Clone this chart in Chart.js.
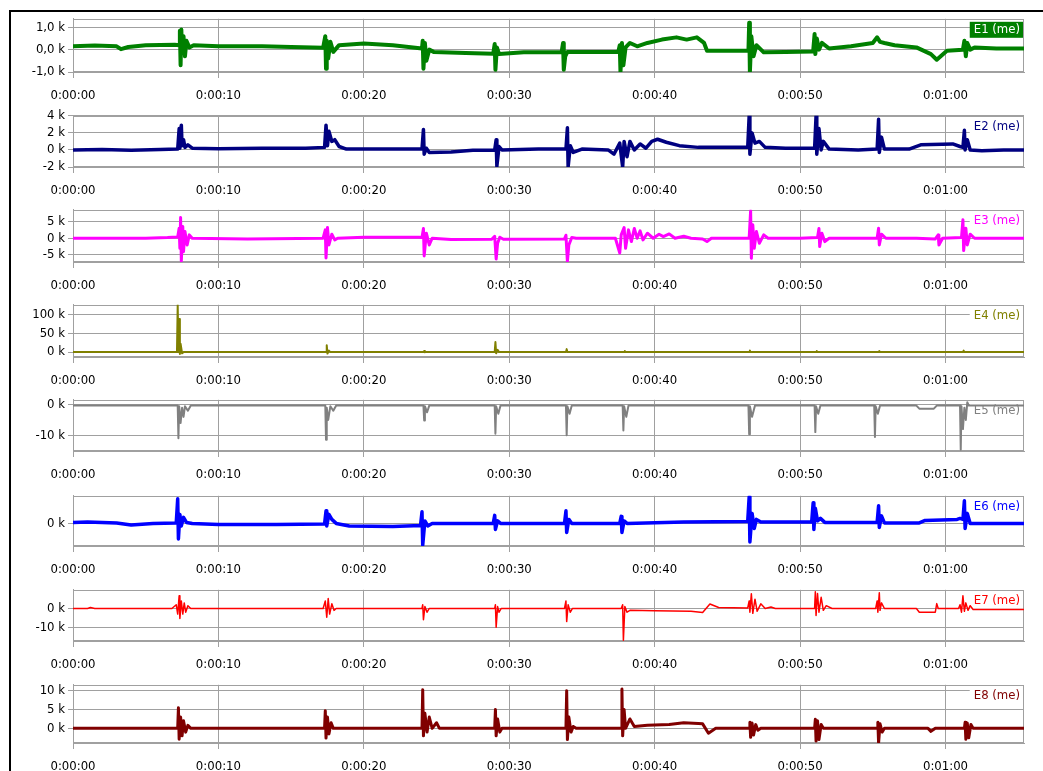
<!DOCTYPE html>
<html>
<head>
<meta charset="utf-8">
<script src="https://cdn.jsdelivr.net/npm/chart.js@4"></script>
<style>
  html, body { margin: 0; padding: 0; background: #fff; overflow: hidden; }
  #frame { position: absolute; left: 9px; top: 10px; width: 1100px; height: 800px;
           border-top: 2px solid #000; border-left: 2px solid #000; }
  .panel { position: absolute; left: 0; }
</style>
</head>
<body>
<div id="frame"></div>
<div id="wrap"></div>
<script>
//----------------- data: [seconds, value in k] -------------------------

const xTicks = [0, 10, 20, 30, 40, 50, 60];

const e1 = [[0,0.15],[1.5,0.18],[3,0.15],[3.3,0.02],[3.8,0.12],[5,0.2],[7.0,0.22],[7.3,0.2],[7.35,0.85],[7.4,-0.7],[7.45,0.9],[7.5,-0.2],[7.6,0.6],[7.7,-0.3],[7.8,0.4],[8.0,0.1],[8.3,0.2],[10,0.15],[13,0.15],[15,0.12],[16.5,0.1],[17.2,0.08],[17.35,0.6],[17.4,-0.85],[17.45,0.4],[17.55,-0.4],[17.7,0.35],[17.9,-0.1],[18.3,0.2],[20,0.28],[22,0.2],[24.0,0.05],[24.05,0.4],[24.1,-0.85],[24.2,0.3],[24.3,-0.5],[24.5,0.0],[24.8,-0.1],[27,-0.15],[28.9,-0.18],[29.0,0.25],[29.05,-0.9],[29.15,0.1],[29.3,-0.2],[31,-0.12],[33.6,-0.12],[33.7,0.3],[33.75,-0.9],[33.85,-0.3],[34.0,-0.1],[36,-0.1],[37.5,-0.1],[37.6,0.2],[37.65,-1.0],[37.75,0.3],[37.85,-0.7],[38.0,0.1],[38.3,0.3],[38.8,0.15],[39.5,0.3],[40.5,0.45],[41.5,0.55],[42.2,0.45],[42.9,0.55],[43.4,0.3],[43.6,-0.05],[45.2,-0.05],[46.45,-0.05],[46.5,1.2],[46.55,-1.0],[46.65,0.6],[46.8,-0.3],[47.0,0.2],[47.5,-0.12],[49,-0.1],[50.9,-0.08],[51.0,0.7],[51.05,-0.2],[51.15,0.5],[51.3,0.0],[51.5,0.3],[52.0,0.05],[53.5,0.15],[55.0,0.3],[55.3,0.55],[55.5,0.35],[55.8,0.3],[56.5,0.2],[58,0.1],[59.0,-0.2],[59.4,-0.45],[60.1,-0.05],[61.2,0.0],[61.3,0.4],[61.4,-0.3],[61.5,0.3],[61.7,0.0],[62.0,0.1],[63.5,0.05],[65.4,0.05]];

const e2 = [[0,0],[2,0.05],[4,-0.05],[6,0.05],[7.2,0.1],[7.3,2.5],[7.35,0.2],[7.45,2.9],[7.5,0.5],[7.6,1.2],[7.7,0.3],[7.9,0.6],[8.2,0.2],[10,0.15],[13,0.2],[16,0.2],[17.3,0.3],[17.4,2.9],[17.5,0.5],[17.6,2.2],[17.8,1.0],[18.0,1.2],[18.3,0.4],[18.8,0.1],[21,0.1],[24.0,0.1],[24.1,2.4],[24.15,-0.5],[24.3,0.2],[24.5,-0.3],[26,-0.25],[27.5,-0.05],[29.0,0.0],[29.1,1.2],[29.15,-1.9],[29.3,0.4],[29.5,0],[32,0.1],[33.9,0.1],[34.0,2.6],[34.05,-2.0],[34.2,0.5],[34.4,-0.3],[35,0.1],[36.8,0.0],[37.2,-0.5],[37.6,0.8],[37.8,-2.0],[37.9,1.0],[38.1,-0.8],[38.3,1.0],[38.6,0.0],[39,0.7],[39.4,0.2],[39.8,1.0],[40.2,1.25],[40.8,0.9],[41.7,0.5],[43,0.3],[45,0.3],[46.4,0.3],[46.5,4.0],[46.55,-0.5],[46.7,2.0],[46.9,0.8],[47.2,1.0],[47.6,0.3],[49,0.2],[51.0,0.2],[51.1,4.0],[51.15,-0.5],[51.3,2.5],[51.45,0.0],[51.6,1.0],[52,0.1],[54,0.0],[55.3,0.1],[55.4,3.6],[55.45,-0.3],[55.6,1.5],[55.8,0.1],[57.5,0.1],[58.3,0.6],[60.5,0.7],[61.0,0.4],[61.2,0.3],[61.3,2.3],[61.35,0.0],[61.5,1.2],[61.7,0.0],[62.5,-0.1],[64,0.0],[65.4,0.0]];

const e3 = [[0,0],[5,0],[6.5,0.2],[7.2,0.4],[7.3,3],[7.35,-3],[7.4,6.2],[7.45,-6.8],[7.55,3.5],[7.6,-4],[7.7,2],[7.85,-2],[8.0,1],[8.2,0],[12,-0.2],[17.2,0],[17.35,2.5],[17.4,-5.9],[17.5,3.2],[17.6,-2],[17.8,1.2],[18.0,-0.5],[18.2,0],[20,0.3],[23.8,0.3],[24.0,0.2],[24.1,2.9],[24.15,-5.3],[24.3,1.5],[24.5,-2],[24.7,0],[26,-0.4],[28.8,-0.3],[29.0,0.6],[29.1,-6.2],[29.2,-1.5],[29.35,0.3],[29.6,-0.3],[33.8,-0.2],[33.9,0.9],[34.0,-7.0],[34.1,-2],[34.3,0.2],[34.6,0],[37.3,0],[37.6,-4.4],[37.7,1],[37.9,3.2],[38.0,-3],[38.2,2.5],[38.4,-1],[38.6,2.9],[38.8,0],[39.0,2.2],[39.2,-0.5],[39.5,1.5],[39.9,0],[40.3,1.2],[40.6,0.5],[41.0,1.3],[41.4,0],[42,0.6],[42.5,0],[43.3,-0.2],[43.6,-1.0],[43.9,0],[46.5,0],[46.6,8.3],[46.65,-6.0],[46.75,4],[46.85,-3],[47.0,2],[47.2,-1.5],[47.5,1],[47.8,0],[50,0],[51.2,0.2],[51.3,2.9],[51.35,-2.5],[51.5,1.5],[51.7,-1],[52.0,0],[55.3,0],[55.4,3.0],[55.45,-2.0],[55.6,1.2],[55.9,0],[58,0],[59.3,-0.2],[59.5,1.0],[59.55,-2.0],[59.8,0],[61.1,0.2],[61.2,5.5],[61.25,-3.7],[61.4,3.0],[61.5,-2],[61.7,1.2],[62.0,0],[65.4,0]];

const e4 = [[0,0],[7.15,0],[7.2,126],[7.25,0],[7.3,88],[7.35,-5],[7.4,22],[7.5,-3],[7.6,0],[17.4,0],[17.45,18],[17.5,-4],[17.6,4],[17.7,0],[24.1,0],[24.15,3],[24.2,0],[29.0,0],[29.05,27],[29.1,-3],[29.2,6],[29.3,0],[33.9,0],[33.95,8],[34.0,0],[37.9,0],[37.95,3],[38.0,0],[46.5,0],[46.55,4],[46.6,0],[51.1,0],[51.15,3],[51.2,0],[55.4,0],[55.45,3],[55.5,0],[61.2,0],[61.25,4],[61.3,0],[65.4,0]];

const e5 = [[0,-0.3],[7.2,-0.3],[7.25,-11],[7.3,-0.5],[7.4,-6],[7.5,-1],[7.6,-4],[7.7,-0.5],[7.9,-2],[8.1,-0.3],[17.35,-0.3],[17.4,-11.5],[17.45,-1],[17.55,-5],[17.7,-0.5],[17.9,-2],[18.1,-0.3],[24.1,-0.3],[24.15,-5.2],[24.2,-0.5],[24.35,-2.5],[24.5,-0.3],[29.0,-0.3],[29.05,-9.5],[29.1,-0.5],[29.25,-3],[29.4,-0.3],[33.9,-0.3],[33.95,-10],[34.0,-0.5],[34.15,-3],[34.3,-0.3],[37.8,-0.3],[37.85,-8.5],[37.9,-0.5],[38.05,-4],[38.2,-0.3],[46.45,-0.3],[46.5,-9.7],[46.55,-0.5],[46.7,-4],[46.9,-0.3],[51.0,-0.3],[51.05,-9],[51.1,-0.5],[51.25,-3],[51.4,-0.3],[55.1,-0.3],[55.15,-10.6],[55.2,-0.5],[55.35,-3],[55.5,-0.3],[58.0,-0.3],[58.2,-1.3],[59.2,-1.3],[59.4,-0.3],[61.0,-0.3],[61.05,-14.8],[61.1,-0.5],[61.2,-8],[61.3,-1],[61.4,-5],[61.5,0.8],[61.6,-0.3],[65.4,-0.3]];

const e6 = [[0,0.2],[1,0.3],[3,0.1],[4,-0.3],[5.5,0],[7.1,0.1],[7.2,4.9],[7.25,-3.1],[7.35,1.8],[7.45,-0.5],[7.6,1.2],[7.8,0.2],[8.2,0],[10,-0.2],[14,-0.2],[17.3,-0.1],[17.4,2.5],[17.45,-0.5],[17.6,1.8],[17.8,0.8],[18.1,0],[19,-0.5],[22,-0.6],[23.9,-0.4],[24.0,2.3],[24.05,-4.3],[24.2,0.5],[24.4,-0.5],[24.7,0],[28.9,0],[29.0,1.6],[29.05,-1.2],[29.2,0.5],[29.4,0],[33.8,0],[33.9,2.5],[33.95,-1.8],[34.1,0.8],[34.3,0],[37.6,0],[37.7,1.4],[37.75,-1.8],[37.9,0.5],[38.1,0],[42,0.3],[46.4,0.4],[46.5,5.3],[46.55,-3.7],[46.7,2],[46.85,-1],[47.0,0.8],[47.3,0.3],[50.8,0.3],[50.9,4.1],[50.95,-1.2],[51.05,3.0],[51.2,0.5],[51.4,1.0],[51.7,0.2],[55.3,0.2],[55.4,3.5],[55.45,-0.8],[55.6,1.5],[55.8,0.1],[58.2,0.1],[58.6,0.6],[60.8,0.8],[61.0,1.0],[61.2,0.8],[61.3,4.5],[61.35,-1.0],[61.5,2],[61.7,0],[65.4,0]];

const e7 = [[0,0],[1,0],[1.2,0.5],[1.5,0],[6.8,0],[7.1,2],[7.2,-3],[7.3,6.8],[7.35,-5.3],[7.45,4],[7.55,-3],[7.65,3],[7.75,-2],[7.9,1.5],[8.1,0],[17.2,0],[17.35,4],[17.45,-4.7],[17.55,5.3],[17.65,-3],[17.8,2.5],[17.95,-1],[18.1,0],[24.0,0],[24.05,2],[24.1,-6],[24.2,1],[24.35,-2],[24.5,0],[29.0,0],[29.05,2],[29.1,-10],[29.2,1],[29.3,-2],[29.45,0],[33.8,0],[33.9,4],[33.95,-7],[34.05,2],[34.2,-2],[34.35,0],[37.7,0],[37.8,2],[37.85,-17],[37.95,1],[38.1,-2],[38.3,-1],[40,-1.2],[42.5,-1.5],[43.3,-2.2],[43.8,2.4],[44.4,0.5],[46.4,0.3],[46.5,4],[46.55,-2],[46.65,7.9],[46.75,-2.6],[46.9,5],[47.05,-1.5],[47.3,2.5],[47.6,0],[48.0,0.8],[48.3,0],[51.0,0],[51.05,9],[51.1,-3.7],[51.2,8],[51.3,-2],[51.45,6],[51.6,-1],[51.8,1.5],[52.2,0],[55.2,0],[55.3,4],[55.35,-2],[55.45,8.4],[55.5,-1],[55.6,3],[55.8,0],[58.0,0],[58.2,-2],[59.3,-2],[59.4,2.6],[59.5,0],[60.9,0],[61.0,2],[61.1,-2],[61.2,6.8],[61.3,-1.5],[61.4,3],[61.55,-1],[61.7,1.5],[61.9,-0.5],[65.4,-0.5]];

const e8 = [[0,0],[7.2,0],[7.25,5.5],[7.3,-2.9],[7.4,3],[7.5,-2],[7.6,2],[7.75,-1],[7.9,0.8],[8.1,0],[17.3,0],[17.35,4.7],[17.4,-2.6],[17.5,3],[17.6,-1.5],[17.75,1.5],[17.9,0],[24.0,0],[24.05,10.3],[24.1,-2],[24.2,4],[24.35,-1],[24.5,3],[24.7,0],[25.0,1.5],[25.2,0],[29.0,0],[29.05,5],[29.1,-2],[29.2,2.5],[29.35,-1],[29.5,0],[33.9,0],[33.95,10],[34.0,-3],[34.1,3],[34.25,-1],[34.4,0.5],[34.6,0],[37.7,0],[37.75,10.5],[37.8,-2],[37.9,5],[38.0,0],[38.3,2.5],[38.6,0.5],[39.5,0.8],[41,1.0],[42.0,1.5],[43.0,1.3],[43.3,1.2],[43.7,-1.3],[44.2,0],[46.5,0],[46.55,1.6],[46.6,-2.4],[46.7,1.4],[46.8,-1.8],[46.95,1],[47.1,-0.5],[47.3,0],[51.0,0],[51.05,2.4],[51.1,-3.4],[51.2,2],[51.3,-3],[51.45,1],[51.6,0],[55.3,0],[55.35,1.6],[55.4,-3.9],[55.5,1.2],[55.65,-1],[55.8,0],[58.8,0],[59.0,-0.8],[59.3,0],[61.3,0],[61.35,1.6],[61.4,-2.9],[61.5,1.4],[61.6,-2.5],[61.75,1],[61.9,0],[65.4,0]];

const names = ['E1 (me)', 'E2 (me)', 'E3 (me)', 'E4 (me)', 'E5 (me)', 'E6 (me)', 'E7 (me)', 'E8 (me)'];
const yTicks = [[1, 0, -1], [4, 2, 0, -2], [5, 0, -5], [100, 50, 0], [0, -10], [0], [0, -10], [10, 5, 0]];
const yMin = [-1.0, -2, -7.1, -13, -15.2, -4.5, -17.4, -3.9];
const yMax = [1.38, 4, 8.5, 126, 1.6, 5.5, 10, 11.6];

//----------------- layout / style -------------------------

const GRID = '#a0a0a0';
const FAMILY = "'DejaVu Sans Condensed', 'DejaVu Sans', sans-serif";
const FONT = "13px " + FAMILY;
const colors = ['#008000', '#000080', '#ff00ff', '#808000', '#808080', '#0000ff', '#ff0000', '#800000'];
const widths = [4, 3.5, 3, 2, 2, 3.5, 1.5, 3];
const tops = [18, 115, 209, 304, 399, 495, 589, 684];
const bottoms = [72, 167, 262, 357, 451, 546, 641, 743];

Chart.defaults.font.family = FAMILY;
Chart.defaults.font.size = 13;
Chart.defaults.color = '#000';

function fmtTime(v) {
    const m = Math.floor(v / 60), s = v % 60;
    return `0:${String(m).padStart(2, '0')}:${String(s).padStart(2, '0')}`;
}

const wrap = document.getElementById('wrap');

for (let i = 0; i < 8; i++) {
    const h = bottoms[i] - tops[i] + 44;
    const cv = document.createElement('canvas');
    cv.className = 'panel';
    cv.width = 1043;
    cv.height = h;
    cv.style.top = (tops[i] - 10) + 'px';
    wrap.appendChild(cv);

    const series = [e1, e2, e3, e4, e5, e6, e7, e8][i];
    const boxed = i === 0;

    const framePlugin = {
        id: 'frame' + i,
        beforeDatasetsDraw(chart) {
            const { ctx, chartArea: a } = chart;
            ctx.save();
            ctx.strokeStyle = GRID;
            ctx.lineWidth = 1;
            ctx.strokeRect(Math.round(a.left) + 0.5, Math.round(a.top) + 0.5,
                Math.round(a.right - a.left) - 1, Math.round(a.bottom - a.top) - 1);
            // series name, top right
            ctx.font = FONT;
            const w = ctx.measureText(names[i]).width;
            const xr = a.right - 1, cy = a.top + 11;
            ctx.fillStyle = boxed ? colors[i] : '#fff';
            ctx.fillRect(xr - w - 7, cy - 8, w + 7, 16);
            ctx.fillStyle = boxed ? '#fff' : colors[i];
            ctx.textAlign = 'right';
            ctx.textBaseline = 'middle';
            ctx.fillText(names[i], xr - 3, cy);
            ctx.restore();
        }
    };

    new Chart(cv, {
        type: 'line',
        data: {
            datasets: [{
                data: series.map(([x, y]) => ({ x, y })),
                borderColor: colors[i],
                borderWidth: widths[i],
                borderJoinStyle: 'round',
                pointRadius: 0,
                tension: 0
            }]
        },
        options: {
            responsive: false,
            animation: false,
            events: [],
            layout: { padding: { left: 10, top: 10, right: 19, bottom: 0 } },
            plugins: { legend: { display: false }, tooltip: { enabled: false } },
            scales: {
                x: {
                    type: 'linear', min: 0, max: 65.4,
                    afterBuildTicks: s => { s.ticks = xTicks.map(v => ({ value: v })); },
                    afterFit: s => { s.height = 34; },
                    grid: { color: GRID, tickLength: 6 },
                    border: { color: GRID },
                    ticks: { padding: 10, maxRotation: 0, autoSkip: false, callback: v => fmtTime(v) }
                },
                y: {
                    min: yMin[i], max: yMax[i],
                    afterBuildTicks: s => { s.ticks = yTicks[i].map(v => ({ value: v })); },
                    afterFit: s => { s.width = 63; },
                    grid: { color: GRID, tickLength: 5 },
                    border: { color: GRID },
                    ticks: { padding: 3, autoSkip: false, callback: v => (i === 0 ? v.toFixed(1).replace('.', ',') : v) + ' k' }
                }
            }
        },
        plugins: [framePlugin]
    });
}
</script>
</body>
</html>
